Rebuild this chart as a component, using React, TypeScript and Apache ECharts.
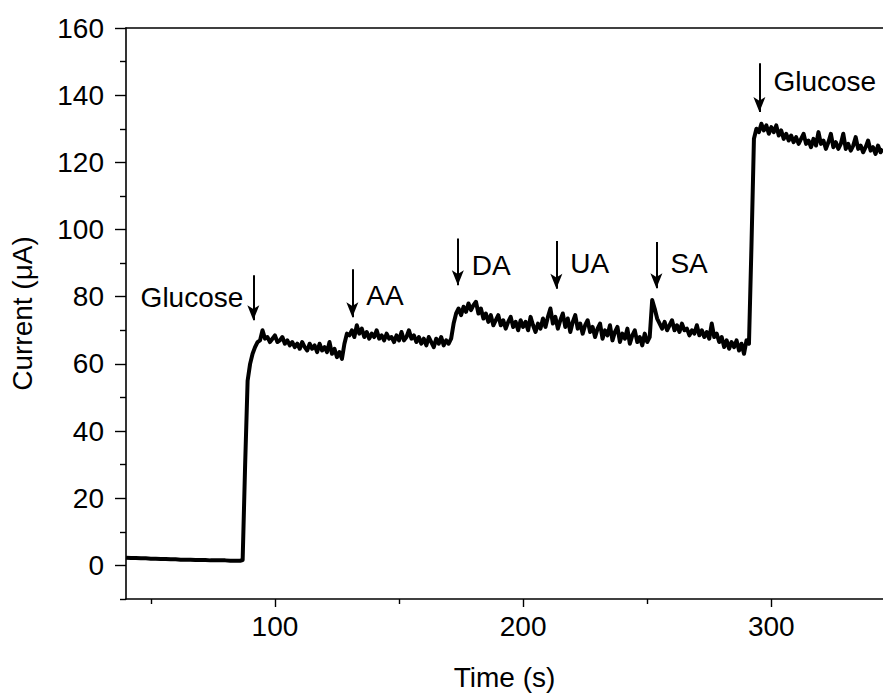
import React, { useEffect, useRef } from "react";
import * as echarts from "echarts";

// Baseline before the first glucose addition: t = 40..86 s, every 2 s
const baselineStart = 40;
const baselineStep = 2;
const baselineCurrent = [
  2.3, 2.2, 2.2, 2.1, 2.1, 2.0, 2.0, 1.9, 1.9, 1.8, 1.8, 1.7,
  1.7, 1.7, 1.6, 1.6, 1.6, 1.5, 1.5, 1.5, 1.5, 1.4, 1.4, 1.4,
];

// Response: t = 87..345 s, every 1 s
const responseStart = 87;
const responseStep = 1;
const responseCurrent = [
  1.6, 30, 55,
  60, 63, 65, 66.5, 67, 70, 67.5, 68, 66.5, 67.5,
  68.5, 66.5, 67, 68, 66, 67, 65.5, 66.5, 65, 66,
  64.5, 66.5, 65, 64, 66, 64.5, 65.5, 63.5, 66, 64,
  65, 63.5, 66.5, 63, 64.5, 62, 63.5, 61.5, 66, 69,
  68.5, 70, 68, 71.5, 69, 70.5, 68, 69.5, 67.5, 69,
  68, 70, 67.5, 68.5, 67, 69, 67.5, 68, 66.5, 68.5,
  67, 69.5, 67, 68, 70, 67.5, 68.5, 66.5, 68, 66,
  67.5, 65.5, 68, 66.5, 65, 67.5, 66, 68, 65.5, 67,
  66, 67.5, 72, 75, 76.5, 74.5, 77, 75.5, 78, 76,
  77.5, 78.5, 75, 76.5, 73.5, 75, 72.5, 74.5, 71.5, 73,
  74.5, 71.5, 73, 70.5, 72.5, 74, 71, 72.5, 70, 73,
  71, 72.5, 70, 74, 71.5, 69.5, 72, 70.5, 73.5, 71,
  74, 76.5, 72, 74, 70.5, 73, 75, 71, 73.5, 69.5,
  72.5, 74.5, 70.5, 72, 69, 71.5, 73, 69.5, 71, 68,
  70.5, 72, 67.5, 70, 68.5, 71.5, 67, 69.5, 71, 66.5,
  69, 67.5, 70.5, 66, 68.5, 70, 66.5, 68, 65.5, 69,
  66.5, 68, 79, 76.5, 73.5, 72, 70.5, 72.5, 70, 71.5,
  73, 70, 71.5, 69.5, 72, 70, 70.5, 68.5, 70, 69,
  71.5, 68.5, 70, 68, 69.5, 67.5, 72, 68, 69, 66.5,
  68, 65, 67, 64.5, 66.5, 65, 67, 64, 66, 63,
  67, 66, 95, 127, 130, 129, 131.5, 129.5, 131, 128.5,
  130.5, 129, 131, 128, 129.5, 127, 128.5, 126.5, 128, 126,
  127.5, 125.5, 127, 128.5, 125.5, 126.5, 124.5, 127, 125, 129,
  125.5, 126.5, 124, 126, 128.5, 124.5, 126, 124, 125.5, 128.5,
  124, 125.5, 123.5, 125, 127.5, 124, 125, 123, 124.5, 126.5,
  123.5, 124.5, 122.5, 125, 123, 124,
];

// Axis ticks
const xMajorTicks = [100, 200, 300];
const xMinorTicks = [50, 150, 250];
const yMajorTicks = [0, 20, 40, 60, 80, 100, 120, 140, 160];
const yMinorTicks = [-10, 10, 30, 50, 70, 90, 110, 130, 150];

// Annotations (arrows + labels)
const arrowTimes = [91.3, 131.2, 173.7, 213.4, 253.7, 295.2];
const arrowTops = [86.4, 88.2, 97.3, 96.6, 96.3, 149.5];
const arrowTips = [73, 73.9, 83.4, 82.4, 82.5, 135];
const annotationLabels = ["Glucose", "AA", "DA", "UA", "SA", "Glucose"];
const labelSides = ["left", "right", "right", "right", "right", "right"];
const labelLevels = [79.9, 80.5, 89.4, 90, 90, 144];

const FONT = "'Liberation Sans', Arial, Helvetica, sans-serif";
const FS = 28;

export default function App() {
  const ref = useRef<HTMLDivElement>(null);

  useEffect(() => {
    if (!ref.current) return;
    const chart = echarts.init(ref.current, null, { renderer: "svg" });

    const seriesData: [number, number][] = [];
    baselineCurrent.forEach((v, i) => seriesData.push([baselineStart + i * baselineStep, v]));
    responseCurrent.forEach((v, i) => seriesData.push([responseStart + i * responseStep, v]));

    const arrowLines = arrowTimes.map((t, i) => [
      { coord: [t, arrowTops[i]] },
      { coord: [t, arrowTips[i]] },
    ]);

    const labelData = annotationLabels.map((name, i) => ({
      name,
      value: [arrowTimes[i], labelLevels[i]],
      label: {
        position: labelSides[i],
        distance: labelSides[i] === "left" ? 10 : 14,
        color: "#000",
      },
    }));

    const axisLineStyle = { color: "#000", width: 1.6 };
    const textStyle = { color: "#000", fontSize: FS, fontFamily: FONT };

    chart.setOption({
      animation: false,
      backgroundColor: "#fff",
      grid: { left: 126, top: 28, right: 0, bottom: 99, containLabel: false },
      xAxis: [
        {
          type: "value",
          min: 40,
          max: 345,
          position: "bottom",
          axisLine: { show: true, onZero: false, lineStyle: axisLineStyle },
          axisTick: { show: true, inside: false, length: 8, customValues: xMajorTicks, lineStyle: { color: "#000", width: 1.4 } },
          axisLabel: { show: true, customValues: xMajorTicks, margin: 13, ...textStyle },
          splitLine: { show: false },
          name: "Time (s)",
          nameLocation: "middle",
          nameGap: 64,
          nameTextStyle: textStyle,
        },
        {
          type: "value",
          min: 40,
          max: 345,
          position: "bottom",
          axisLine: { show: false, onZero: false },
          axisTick: { show: true, inside: false, length: 5, customValues: xMinorTicks, lineStyle: { color: "#000", width: 1.4 } },
          axisLabel: { show: false },
          splitLine: { show: false },
        },
        {
          type: "value",
          min: 40,
          max: 345,
          position: "top",
          axisLine: { show: true, onZero: false, lineStyle: axisLineStyle },
          axisTick: { show: false },
          axisLabel: { show: false },
          splitLine: { show: false },
        },
      ],
      yAxis: [
        {
          type: "value",
          min: -10,
          max: 160,
          position: "left",
          axisLine: { show: true, onZero: false, lineStyle: axisLineStyle },
          axisTick: { show: true, inside: false, length: 11, customValues: yMajorTicks, lineStyle: { color: "#000", width: 1.4 } },
          axisLabel: { show: true, customValues: yMajorTicks, margin: 22, ...textStyle },
          splitLine: { show: false },
          name: "Current (μA)",
          nameLocation: "middle",
          nameGap: 90,
          nameTextStyle: textStyle,
        },
        {
          type: "value",
          min: -10,
          max: 160,
          position: "left",
          axisLine: { show: false, onZero: false },
          axisTick: { show: true, inside: false, length: 6, customValues: yMinorTicks, lineStyle: { color: "#000", width: 1.4 } },
          axisLabel: { show: false },
          splitLine: { show: false },
        },
      ],
      series: [
        {
          type: "line",
          name: "Current",
          xAxisIndex: 0,
          yAxisIndex: 0,
          data: seriesData,
          showSymbol: false,
          symbol: "none",
          lineStyle: { color: "#000", width: 4, join: "round" },
          clip: true,
          markLine: {
            silent: true,
            symbol: ["none", "arrow"],
            symbolSize: [9, 15],
            label: { show: false },
            lineStyle: { color: "#000", width: 2, type: "solid" },
            emphasis: { disabled: true },
            data: arrowLines,
          },
        },
        {
          type: "scatter",
          xAxisIndex: 0,
          yAxisIndex: 0,
          symbolSize: 0,
          itemStyle: { color: "#000", opacity: 1 },
          silent: true,
          label: {
            show: true,
            formatter: "{b}",
            ...textStyle,
            opacity: 1,
          },
          data: labelData,
        },
      ],
    });

    return () => chart.dispose();
  }, []);

  return (
    <div
      ref={ref}
      style={{ position: "fixed", left: 0, top: 0, width: 883, height: 698, background: "#fff" }}
    />
  );
}
